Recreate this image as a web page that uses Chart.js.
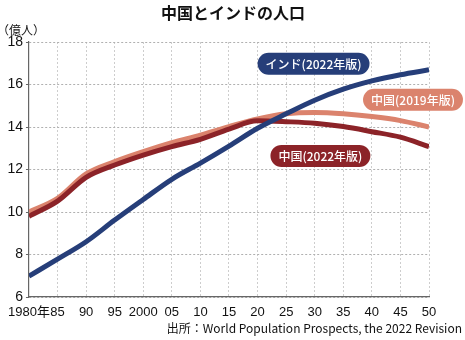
<!DOCTYPE html>
<html lang="ja">
<head>
<meta charset="utf-8">
<script src="https://cdn.jsdelivr.net/npm/chart.js@4"></script>
<style>
  html, body { margin:0; padding:0; background:#fff; }
  #wrap { width:465px; height:340px; position:relative; }
</style>
</head>
<body>
<div id="wrap"><canvas id="popChart" width="465" height="340"></canvas></div>
<script>
/* データ（億人） */
const years = [1980,1985,1990,1995,2000,2005,2010,2015,2020,2025,2030,2035,2040,2045,2050];
const xTickLabels = ['1980年','85','90','95','2000','05','10','15','20','25','30','35','40','45','50'];
const india2022 = [6.98,7.78,8.60,9.62,10.59,11.54,12.30,13.10,13.94,14.62,15.26,15.78,16.17,16.46,16.69];
const china2022 = [9.80,10.51,11.63,12.21,12.68,13.08,13.42,13.90,14.29,14.25,14.18,14.02,13.78,13.52,13.08];
const china2019 = [10.00,10.64,11.79,12.37,12.84,13.26,13.62,14.02,14.38,14.62,14.68,14.62,14.49,14.30,14.00];

const seriesNames = ['インド(2022年版)','中国(2022年版)','中国(2019年版)'];
const seriesColors = ['#263e79','#8c2328','#db836d'];
// ラベルの置き場所（データ座標）
const labelAt = [ {x:2029.8, y:16.98}, {x:2031.0, y:12.64}, {x:2047.2, y:15.28} ];

const TICK_FONT = "'Liberation Sans','Noto Sans CJK JP',sans-serif";
const JP_FONT = "'Noto Sans CJK JP',sans-serif";

const toPts = arr => arr.map((v,i)=> ({x:years[i], y:v}));

/* タイトル・単位・出所・ラベル */
const decorPlugin = {
  id:'decor',
  afterDatasetsDraw(chart){
    const {ctx, scales:{x, y}} = chart;
    ctx.save();
    ctx.font = `500 12px ${JP_FONT}`;
    ctx.textBaseline = 'middle';
    ctx.textAlign = 'center';
    seriesNames.forEach((name,i)=>{
      const cx = x.getPixelForValue(labelAt[i].x);
      const cy = y.getPixelForValue(labelAt[i].y);
      const w = ctx.measureText(name).width + 16, h = 22;
      ctx.fillStyle = seriesColors[i];
      ctx.beginPath();
      ctx.roundRect(cx-w/2, cy-h/2, w, h, h/2);
      ctx.fill();
      ctx.fillStyle = '#fff';
      ctx.fillText(name, cx, cy+1);
    });
    ctx.restore();
  },
  afterDraw(chart){
    const {ctx} = chart;
    ctx.save();
    ctx.fillStyle = '#111';
    ctx.textBaseline = 'middle';
    ctx.textAlign = 'center';
    ctx.font = `bold 16px ${JP_FONT}`;
    ctx.fillText('中国とインドの人口', 233, 13);
    ctx.textAlign = 'left';
    ctx.font = `12px ${JP_FONT}`;
    ctx.fillText('（億人）', -3, 30);
    ctx.textAlign = 'right';
    ctx.fillText('出所：World Population Prospects, the 2022 Revision', 462, 328);
    ctx.restore();
  }
};

new Chart(document.getElementById('popChart'), {
  type:'line',
  data:{
    datasets: seriesNames.map((name,i)=>({
      label: name,
      data: toPts([india2022, china2022, china2019][i]),
      borderColor: seriesColors[i],
      backgroundColor: seriesColors[i],
      borderWidth: 5,
      pointRadius: 0,
      cubicInterpolationMode: 'monotone',
      fill: false
    }))
  },
  options:{
    responsive:false,
    animation:false,
    layout:{ padding:{ left:0, right:36, top:42, bottom:0 } },
    plugins:{ legend:{display:false}, tooltip:{enabled:false}, title:{display:false} },
    scales:{
      x:{
        type:'linear', min:1980, max:2050,
        afterFit: s => { s.height = 43; },
        ticks:{
          stepSize:5, autoSkip:false, maxRotation:0, padding:8,
          color:'#111', font:{ family:TICK_FONT, size:13 },
          callback: v => xTickLabels[years.indexOf(v)] ?? ''
        },
        grid:{ color:'#cdcdcd', tickLength:0, lineWidth:1 },
        border:{ color:'#666', width:1.2, dash:[2,2] }
      },
      y:{
        min:6, max:18,
        afterFit: s => { s.width = 24; },
        ticks:{ stepSize:2, color:'#111', padding:3, font:{ family:TICK_FONT, size:14 } },
        grid:{ color:'#b0b0b0', tickLength:3, lineWidth:1, tickBorderDash:[], tickColor:'#666' },
        border:{ color:'#666', width:1.2, dash:[2,2] }
      }
    }
  },
  plugins:[decorPlugin]
});
</script>
</body>
</html>
